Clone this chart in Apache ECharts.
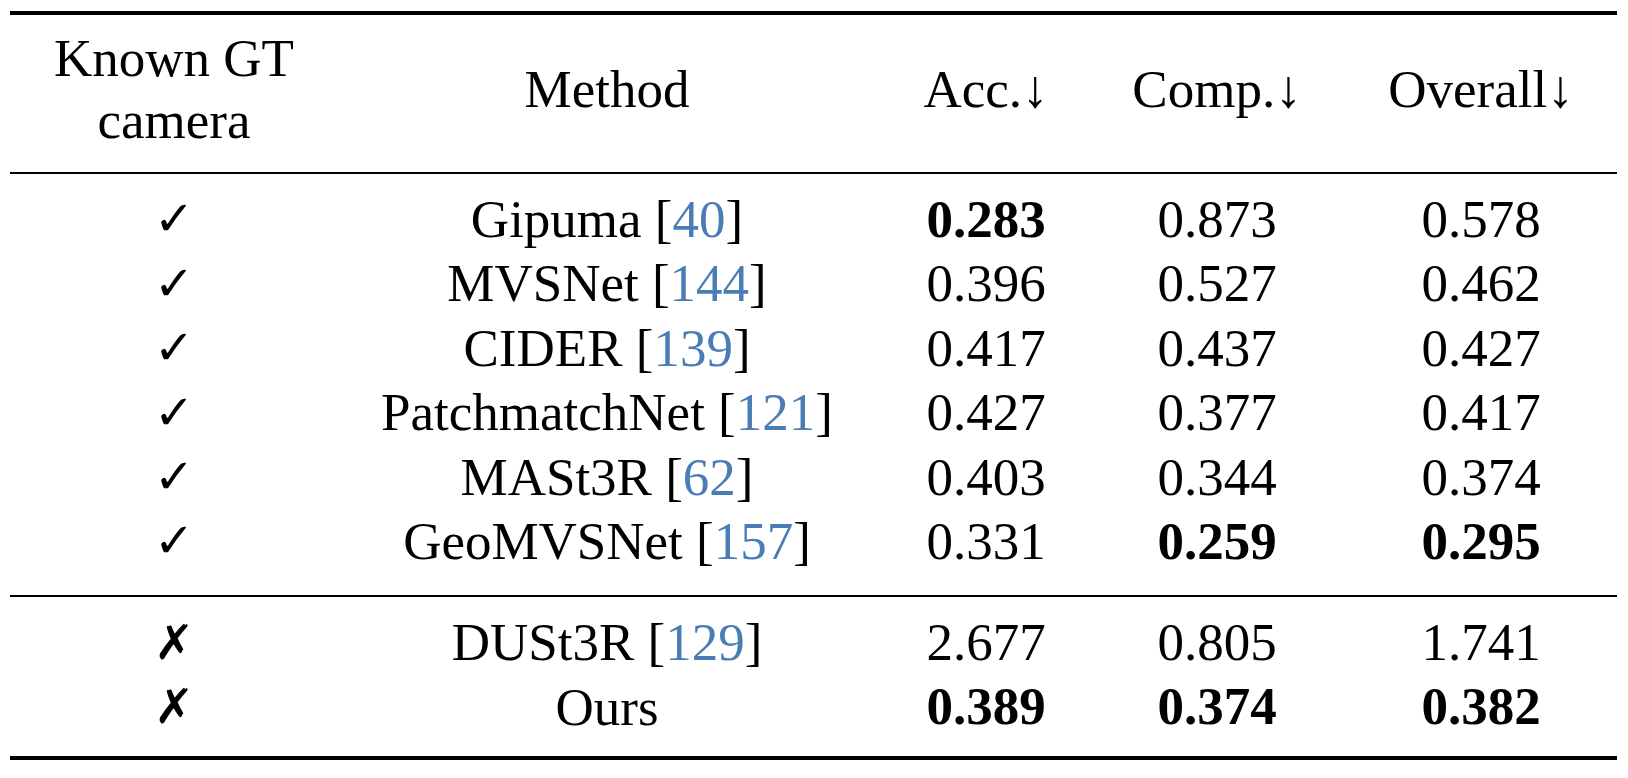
<!DOCTYPE html>
<html>
<head>
<meta charset="utf-8">
<script src="https://cdn.jsdelivr.net/npm/echarts@6/dist/echarts.min.js"></script>
<style>html,body{margin:0;padding:0;background:#fff}#chart{width:1628px;height:778px}</style>
</head>
<body>
<div id="chart"></div>
<script>
var headers = ['Known GT\ncamera', 'Method', 'Acc.↓', 'Comp.↓', 'Overall↓'];
var known = ['✓', '✓', '✓', '✓', '✓', '✓', '✗', '✗'];
var methods = ['Gipuma', 'MVSNet', 'CIDER', 'PatchmatchNet', 'MASt3R', 'GeoMVSNet', 'DUSt3R', 'Ours'];
var refs = ['40', '144', '139', '121', '62', '157', '129', ''];
var acc = ['0.283', '0.396', '0.417', '0.427', '0.403', '0.331', '2.677', '0.389'];
var comp = ['0.873', '0.527', '0.437', '0.377', '0.344', '0.259', '0.805', '0.374'];
var overall = ['0.578', '0.462', '0.427', '0.417', '0.374', '0.295', '1.741', '0.382'];
var bestAcc = [0, 7];
var bestComp = [5, 7];
var bestOverall = [5, 7];

// layout
var colX = [174, 607, 986, 1217, 1481];
var headerY = 93;
var rowTop = 223, rowPitch = 64.4, groupGap = 37;
var rules = [[13, 4], [173, 2], [596, 2], [758, 4]];
var FONT = '"Liberation Serif", "Times New Roman", serif';

function rowY(i) { return rowTop + i * rowPitch + (i >= 6 ? groupGap : 0); }

var cells = [];
headers.forEach(function (h, c) { cells.push({ value: [colX[c], headerY], text: h, kind: 'head' }); });
methods.forEach(function (m, i) {
    var y = rowY(i);
    cells.push({ value: [colX[0], y], text: known[i], kind: 'mark' });
    cells.push({ value: [colX[1], y], text: refs[i] ? m + ' [{r|' + refs[i] + '}]' : m, kind: 'method' });
    cells.push({ value: [colX[2], y], text: acc[i], kind: bestAcc.indexOf(i) >= 0 ? 'bold' : 'num' });
    cells.push({ value: [colX[3], y], text: comp[i], kind: bestComp.indexOf(i) >= 0 ? 'bold' : 'num' });
    cells.push({ value: [colX[4], y], text: overall[i], kind: bestOverall.indexOf(i) >= 0 ? 'bold' : 'num' });
});

var chart = echarts.init(document.getElementById('chart'));
chart.setOption({
    animation: false,
    grid: { left: 0, right: 0, top: 0, bottom: 0 },
    xAxis: { type: 'value', min: 0, max: 1628, show: false },
    yAxis: { type: 'value', min: 0, max: 778, inverse: true, show: false },
    series: [
        {
            type: 'custom',
            data: rules,
            renderItem: function (params, api) {
                var p1 = api.coord([10, api.value(0)]);
                var p2 = api.coord([1617, api.value(0)]);
                return { type: 'line', shape: { x1: p1[0], y1: p1[1], x2: p2[0], y2: p2[1] },
                    style: { stroke: '#000', lineWidth: api.value(1) } };
            }
        },
        {
            type: 'custom',
            data: cells,
            renderItem: function (params, api) {
                var d = cells[params.dataIndex];
                var p = api.coord([api.value(0), api.value(1)]);
                var isMark = d.kind === 'mark';
                return {
                    type: 'text', x: p[0], y: p[1],
                    style: {
                        text: d.text, align: 'center', verticalAlign: 'middle',
                        font: (d.kind === 'bold' || isMark ? 'bold ' : '') + (isMark ? 'italic 48px "DejaVu Sans"' : '53px ' + FONT),
                        fill: '#000', lineHeight: 62,
                        rich: { r: { fill: '#4a7db5', font: '53px ' + FONT } }
                    }
                };
            }
        }
    ]
});
window.onresize = function () { chart.resize(); };
</script>
</body>
</html>
